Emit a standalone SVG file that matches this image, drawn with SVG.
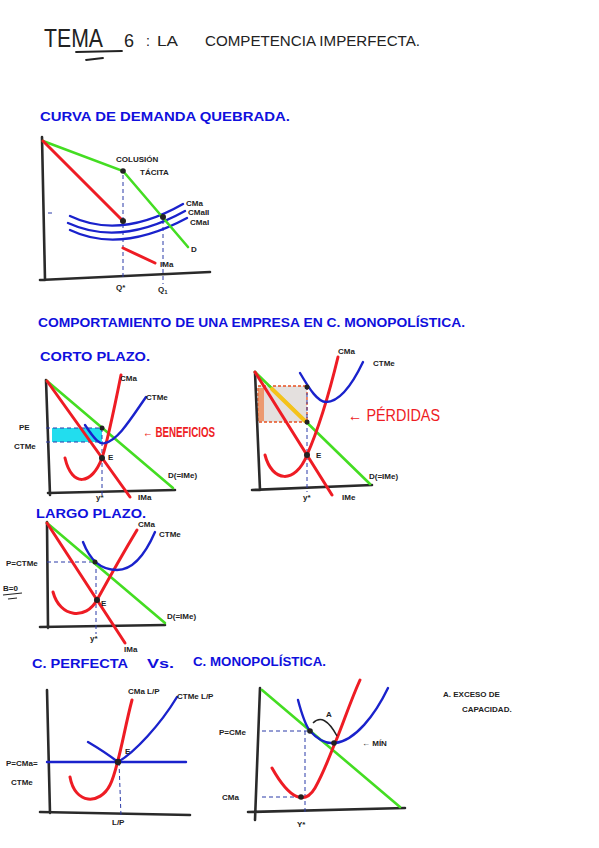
<svg xmlns="http://www.w3.org/2000/svg" width="599" height="848" viewBox="0 0 599 848">
<style>
text{font-family:"Liberation Sans",Arial,sans-serif;font-weight:bold}
.ax{fill:none;stroke:#2a2a2a;stroke-width:2.6;stroke-linecap:round}
.r{fill:none;stroke:#ee1c24;stroke-width:3;stroke-linecap:round}
.g{fill:none;stroke:#44dd22;stroke-width:2.6;stroke-linecap:round}
.b{fill:none;stroke:#1a22cc;stroke-width:2.4;stroke-linecap:round}
.d{fill:none;stroke:#2a3aa8;stroke-width:1;stroke-dasharray:4 3}
.h{fill:#1010dd;font-size:13px}
.k{fill:#222;font-size:8px}
.dot{fill:#222}
</style>
<rect width="599" height="848" fill="#fff"/>
<g id="title">
<text x="44" y="47" font-size="26" font-weight="normal" fill="#222" textLength="59" lengthAdjust="spacingAndGlyphs" style="font-weight:normal">TEMA</text>
<path d="M76,52 L122,51 M86,60 L103,58" stroke="#222" stroke-width="1.8" fill="none" stroke-linecap="round"/>
<text x="124" y="47" font-size="18" fill="#222" style="font-weight:normal">6</text>
<text x="146" y="46" font-size="14" fill="#222" style="font-weight:normal">:</text>
<text x="157" y="46" font-size="15" fill="#222" style="font-weight:normal" textLength="21" lengthAdjust="spacingAndGlyphs">LA</text>
<text x="205" y="46" font-size="14" fill="#222" style="font-weight:normal" textLength="215" lengthAdjust="spacingAndGlyphs">COMPETENCIA IMPERFECTA.</text>
</g>
<g id="h1"><text class="h" x="40" y="121" textLength="250" lengthAdjust="spacingAndGlyphs">CURVA DE DEMANDA QUEBRADA.</text></g>
<g id="graph1">
<path class="ax" d="M42,137 L45,280 M40,280 L210,272"/>
<path class="d" d="M123,175 L123,280 M163,220 L163,284 M48,213 L54,213"/>
<path class="b" d="M70,216 Q120,240 183,204 M68,223 Q120,247 185,211 M70,230 Q120,254 187,218"/>
<path class="g" d="M43,141 L123,171 L188,247"/>
<path class="r" d="M43,141 L123,221 M123,248 L155,263"/>
<circle class="dot" cx="123" cy="171" r="2.8"/><circle class="dot" cx="123" cy="221" r="3"/><circle class="dot" cx="163" cy="217" r="3"/>
<text class="k" x="116" y="162" font-size="6.5">COLUSIÓN</text>
<text class="k" x="140" y="175">TÁCITA</text>
<text class="k" x="186" y="206" font-size="6.5">CMa</text>
<text class="k" x="188" y="215" font-size="6.5">CMaII</text>
<text class="k" x="190" y="225" font-size="6.5">CMaI</text>
<text class="k" x="191" y="252" font-size="9">D</text>
<text class="k" x="160" y="267">IMa</text>
<text class="k" x="116" y="290">Q*</text>
<text class="k" x="158" y="292">Q<tspan font-size="6" dy="2">1</tspan></text>
</g>
<g id="h2"><text class="h" x="38" y="327" font-size="12" textLength="427" lengthAdjust="spacingAndGlyphs">COMPORTAMIENTO DE UNA EMPRESA EN C. MONOPOLÍSTICA.</text></g>
<g id="h-corto"><text class="h" x="40" y="361" font-size="12" textLength="110" lengthAdjust="spacingAndGlyphs">CORTO PLAZO.</text></g>
<g id="graph2">
<rect x="52" y="428" width="50" height="14" fill="#22ddee"/>
<path class="ax" d="M46,380 L50,495 M48,493 L175,490"/>
<path class="d" d="M46,428 L103,428 M46,442 L103,442 M102,428 L102,496"/>
<path class="g" d="M47,381 L173,488"/>
<path class="r" d="M47,381 L130,497"/>
<path class="r" d="M65,458 C72,488 92,485 102,458 C108,440 115,405 121,375"/>
<path class="b" d="M85,425 C95,440 100,445 105,443 C118,440 130,420 146,397"/>
<circle class="dot" cx="102" cy="428" r="2.5"/><circle class="dot" cx="102" cy="458" r="3"/>
<text class="k" x="120" y="381">CMa</text>
<text class="k" x="146" y="400">CTMe</text>
<text class="k" x="108" y="460">E</text>
<text class="k" x="168" y="478">D(=IMe)</text>
<text class="k" x="96" y="500">y*</text>
<text class="k" x="138" y="500">IMa</text>
<text class="k" x="19" y="430">PE</text>
<text class="k" x="14" y="449">CTMe</text>
<text x="143" y="437" font-size="14" fill="#ee1c24" textLength="72" lengthAdjust="spacingAndGlyphs">← BENEFICIOS</text>
</g>
<g id="graph3">
<rect x="258" y="386" width="49" height="36" fill="#e4e0de" stroke="#e85020" stroke-width="1.3" stroke-dasharray="3 2"/>
<rect x="258" y="388" width="6" height="33" fill="#f07a40" opacity="0.7"/>
<path class="ax" d="M255,372 L260,490 M252,490 L372,485"/>
<path class="d" d="M307,386 L307,492"/>
<path class="g" d="M255,372 L370,484"/>
<path d="M272,389 L305,421" stroke="#f5c21a" stroke-width="4" stroke-linecap="round"/>
<path class="r" d="M255,372 L332,495"/>
<path class="r" d="M265,455 C272,482 295,485 307,455 C318,430 330,390 338,357"/>
<path class="b" d="M300,373 C310,390 318,402 326,402 C340,402 352,385 363,362"/>
<circle class="dot" cx="307" cy="387" r="2.5"/><circle class="dot" cx="307" cy="422" r="2.5"/><circle class="dot" cx="307" cy="455" r="3"/>
<text class="k" x="338" y="354">CMa</text>
<text class="k" x="373" y="366">CTMe</text>
<text class="k" x="316" y="458">E</text>
<text class="k" x="369" y="479">D(=IMe)</text>
<text class="k" x="303" y="500">y*</text>
<text class="k" x="342" y="500">IMe</text>
<text x="348" y="421" font-size="16" fill="#ee1c24" style="font-weight:normal" textLength="92" lengthAdjust="spacingAndGlyphs">← PÉRDIDAS</text>
</g>
<g id="h-largo"><text class="h" x="36" y="518" font-size="12" textLength="110" lengthAdjust="spacingAndGlyphs">LARGO PLAZO.</text></g>
<g id="graph4">
<path class="ax" d="M47,522 L48,628 M40,627 L165,625"/>
<path class="d" d="M47,562 L95,562 M96,562 L96,634"/>
<path class="g" d="M47,523 L165,623"/>
<path class="r" d="M47,523 L125,643"/>
<path class="r" d="M53,592 C60,618 86,620 97,600 C108,580 125,550 137,530"/>
<path class="b" d="M83,542 C90,560 100,570 117,570 C133,570 145,555 155,532"/>
<circle class="dot" cx="95" cy="562" r="2.5"/><circle class="dot" cx="97" cy="600" r="3"/>
<text class="k" x="6" y="566">P=CTMe</text>
<text class="k" x="3" y="591" font-size="9">B=0</text>
<path d="M3,595 L22,593 M8,599 L17,598" stroke="#222" stroke-width="1.2" fill="none"/>
<text class="k" x="138" y="527" font-size="7">CMa</text>
<text class="k" x="159" y="537">CTMe</text>
<text class="k" x="101" y="606" font-size="10">E</text>
<text class="k" x="167" y="619">D(=IMe)</text>
<text class="k" x="90" y="641">y*</text>
<text class="k" x="124" y="652">IMa</text>
</g>
<g id="h3">
<text class="h" x="32" y="668" font-size="12" textLength="96" lengthAdjust="spacingAndGlyphs">C. PERFECTA</text>
<text class="h" x="147" y="668" font-size="13" textLength="27" lengthAdjust="spacingAndGlyphs">Vs.</text>
<text class="h" x="193" y="666" font-size="12" textLength="133" lengthAdjust="spacingAndGlyphs">C. MONOPOLÍSTICA.</text>
</g>
<g id="graph5">
<path class="ax" d="M47,690 L50,813 M40,812 L190,815"/>
<path class="d" d="M119,762 L121,816"/>
<path class="b" d="M47,762 L186,762"/>
<path class="r" d="M70,777 C75,805 100,805 110,785 C118,770 124,730 132,700"/>
<path class="b" d="M88,742 Q105,752 118,762 C135,752 160,725 177,697"/>
<circle class="dot" cx="118" cy="762" r="3.2"/>
<text class="k" x="125" y="754">E</text>
<text class="k" x="128" y="694" font-size="7">CMa L/P</text>
<text class="k" x="177" y="699" font-size="7">CTMe L/P</text>
<text class="k" x="6" y="766" font-size="7">P=CMa=</text>
<text class="k" x="11" y="785">CTMe</text>
<text class="k" x="112" y="825">L/P</text>
</g>
<g id="graph6">
<path class="ax" d="M260,688 L255,820 M248,812 L405,808"/>
<path class="d" d="M262,731 L310,731 M305,731 L305,812 M262,797 L301,797"/>
<path class="g" d="M262,690 L400,807"/>
<path class="r" d="M272,768 C290,800 305,805 315,788 C324,772 330,755 335,743 C342,727 350,702 360,680"/>
<path class="b" d="M298,700 C302,715 306,726 310,731 C318,740 326,744 335,743 C355,741 375,715 388,688"/>
<path d="M313,723 Q324,712 337,736" stroke="#222" stroke-width="1.5" fill="none"/>
<circle class="dot" cx="310" cy="731" r="2.8"/><circle class="dot" cx="334" cy="743" r="2.8"/><circle class="dot" cx="301" cy="797" r="2.8"/>
<text class="k" x="326" y="717">A</text>
<text class="k" x="219" y="735" font-size="7">P=CMe</text>
<text class="k" x="222" y="800" font-size="7">CMa</text>
<text class="k" x="297" y="827" font-size="10">Y*</text>
<text class="k" x="362" y="746">← MÍN</text>
<text class="k" x="443" y="697">A. EXCESO DE</text>
<text class="k" x="462" y="712">CAPACIDAD.</text>
</g>
</svg>
